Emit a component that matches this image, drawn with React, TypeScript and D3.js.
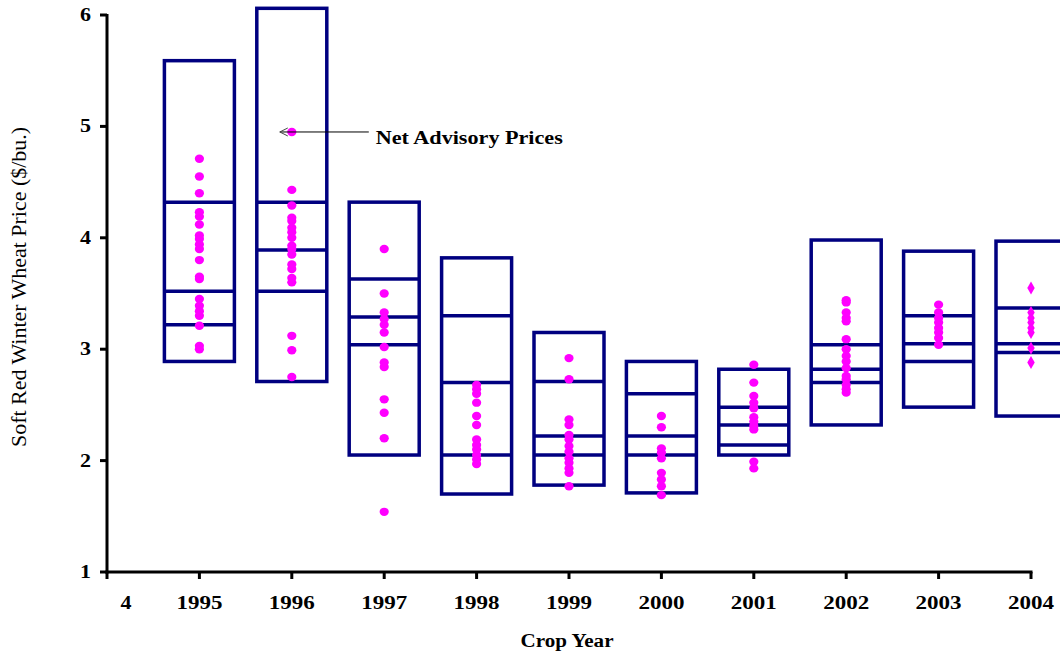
import React from "react";
import * as d3 from "d3";

const years = [1995, 1996, 1997, 1998, 1999, 2000, 2001, 2002, 2003, 2004];
const xTickYears = [1994, 1995, 1996, 1997, 1998, 1999, 2000, 2001, 2002, 2003, 2004];
const xTickLabels = ["4", "1995", "1996", "1997", "1998", "1999", "2000", "2001", "2002", "2003", "2004"];
const yTicks = [1, 2, 3, 4, 5, 6];

// box outline (top / bottom) and three inner reference lines per crop year
const boxTop = [5.59, 6.06, 4.32, 3.82, 3.15, 2.89, 2.82, 3.98, 3.88, 3.97];
const lineA = [4.32, 4.32, 3.63, 3.30, 2.71, 2.60, 2.48, 3.04, 3.30, 3.37];
const lineB = [3.52, 3.89, 3.29, 2.70, 2.22, 2.22, 2.32, 2.82, 3.05, 3.05];
const lineC = [3.22, 3.52, 3.04, 2.05, 2.05, 2.05, 2.14, 2.70, 2.89, 2.97];
const boxBottom = [2.89, 2.71, 2.05, 1.70, 1.78, 1.71, 2.05, 2.32, 2.48, 2.40];

// net advisory prices per crop year
const prices1995 = [4.71, 4.55, 4.40, 4.23, 4.19, 4.12, 4.02, 3.99, 3.94, 3.90, 3.80, 3.65, 3.63, 3.45, 3.39, 3.34, 3.30, 3.21, 3.03, 3.00];
const prices1996 = [4.95, 4.43, 4.29, 4.18, 4.15, 4.09, 4.05, 4.00, 3.93, 3.90, 3.85, 3.76, 3.72, 3.64, 3.60, 3.12, 2.99, 2.75];
const prices1997 = [3.90, 3.50, 3.33, 3.27, 3.22, 3.15, 3.02, 2.88, 2.84, 2.55, 2.43, 2.20, 1.54];
const prices1998 = [2.68, 2.64, 2.60, 2.52, 2.40, 2.32, 2.19, 2.14, 2.10, 2.05, 2.01, 1.97];
const prices1999 = [2.92, 2.73, 2.37, 2.32, 2.23, 2.19, 2.13, 2.08, 2.02, 1.98, 1.93, 1.89, 1.77];
const prices2000 = [2.40, 2.30, 2.11, 2.07, 2.02, 1.89, 1.83, 1.77, 1.69];
const prices2001 = [2.86, 2.70, 2.58, 2.52, 2.47, 2.39, 2.35, 2.31, 2.28, 1.99, 1.93];
const prices2002 = [3.44, 3.42, 3.33, 3.28, 3.25, 3.09, 3.00, 2.94, 2.89, 2.83, 2.76, 2.73, 2.68, 2.64, 2.61];
const prices2003 = [3.40, 3.33, 3.28, 3.24, 3.19, 3.15, 3.10, 3.04];
const prices2004 = [3.55, 3.33, 3.28, 3.24, 3.19, 3.15, 3.01, 2.88];
const prices = [prices1995, prices1996, prices1997, prices1998, prices1999, prices2000, prices2001, prices2002, prices2003, prices2004];

const annotationYear = 1996;
const annotationValue = 4.95;
const annotationText = "Net Advisory Prices";
const yTitle = "Soft Red Winter Wheat Price ($/bu.)";
const xTitle = "Crop Year";

const W = 1060;
const H = 655;
const NAVY = "#000080";
const MAGENTA = "#ff00ff";
const SERIF = "'Liberation Serif', 'Times New Roman', serif";

export default function App() {
  const x = d3.scaleLinear().domain([1994, 2004]).range([107, 1031]);
  const y = d3.scaleLinear().domain([1, 6]).range([572, 15]);
  const boxW = 70;
  const diamond = d3.symbol().type(d3.symbolDiamond).size(48)();

  return (
    <svg
      width={W}
      height={H}
      style={{ position: "absolute", left: 0, top: 0, background: "#fff" }}
      fontFamily={SERIF}
    >
      <rect x={0} y={0} width={W} height={H} fill="#fff" />
      {/* boxes */}
      {years.map((yr, i) => {
        const cx = x(yr);
        const l = cx - boxW / 2;
        return (
          <g key={yr} stroke={NAVY} strokeWidth={3.5} fill="none">
            <rect x={l} y={y(boxTop[i])} width={boxW} height={y(boxBottom[i]) - y(boxTop[i])} />
            {[lineA[i], lineB[i], lineC[i]].map((v, k) => (
              <line key={k} x1={l} x2={l + boxW} y1={y(v)} y2={y(v)} />
            ))}
          </g>
        );
      })}
      {/* dots */}
      {years.map((yr, i) =>
        prices[i].map((v, k) =>
          yr === 2004 ? (
            <path key={`${yr}-${k}`} d={diamond} transform={`translate(${x(yr)},${y(v)})`} fill={MAGENTA} />
          ) : (
            <ellipse key={`${yr}-${k}`} cx={x(yr)} cy={y(v)} rx={4.6} ry={4.2} fill={MAGENTA} />
          )
        )
      )}
      {/* annotation */}
      <g>
        <line
          x1={x(annotationYear) - 12}
          x2={x(annotationYear) + 77}
          y1={y(annotationValue)}
          y2={y(annotationValue)}
          stroke="#000"
          strokeWidth={1}
        />
        <path
          d={`M${x(annotationYear) - 4},${y(annotationValue) - 4} L${x(annotationYear) - 12},${y(annotationValue)} L${x(annotationYear) - 4},${y(annotationValue) + 4}`}
          stroke="#444"
          strokeWidth={1}
          fill="none"
        />
        <text
          x={x(annotationYear) + 84}
          y={y(annotationValue) + 12}
          fontSize={19}
          fontWeight="bold"
          textLength={187}
          lengthAdjust="spacingAndGlyphs"
          fill="#000"
        >
          {annotationText}
        </text>
      </g>
      {/* axes */}
      <g stroke="#000" strokeWidth={3}>
        <line x1={x(1994)} x2={x(1994)} y1={y(6) - 1} y2={y(1) + 1.5} />
        <line x1={x(1994) - 1.5} x2={x(2004) + 1.5} y1={y(1)} y2={y(1)} />
        {yTicks.map((t) => (
          <line key={t} x1={x(1994) - 7} x2={x(1994)} y1={y(t)} y2={y(t)} />
        ))}
        {xTickYears.map((t) => (
          <line key={t} x1={x(t)} x2={x(t)} y1={y(1)} y2={y(1) + 7} />
        ))}
      </g>
      {yTicks.map((t) => (
        <text
          key={t}
          x={91}
          y={y(t) + 6}
          textAnchor="end"
          fontSize={19}
          fontWeight="bold"
          textLength={11}
          lengthAdjust="spacingAndGlyphs"
        >
          {t}
        </text>
      ))}
      {xTickYears.map((t, i) => (
        <text
          key={t}
          x={i === 0 ? x(t) + 19 : x(t)}
          y={y(1) + 37}
          textAnchor="middle"
          fontSize={19}
          fontWeight="bold"
          textLength={xTickLabels[i].length === 1 ? 11 : 46}
          lengthAdjust="spacingAndGlyphs"
        >
          {xTickLabels[i]}
        </text>
      ))}
      <text
        x={567}
        y={647}
        textAnchor="middle"
        fontSize={18}
        fontWeight="bold"
        textLength={93}
        lengthAdjust="spacingAndGlyphs"
      >
        {xTitle}
      </text>
      <text
        transform={`translate(26,${287}) rotate(-90)`}
        textAnchor="middle"
        fontSize={20}
        textLength={320}
        lengthAdjust="spacingAndGlyphs"
      >
        {yTitle}
      </text>
    </svg>
  );
}
